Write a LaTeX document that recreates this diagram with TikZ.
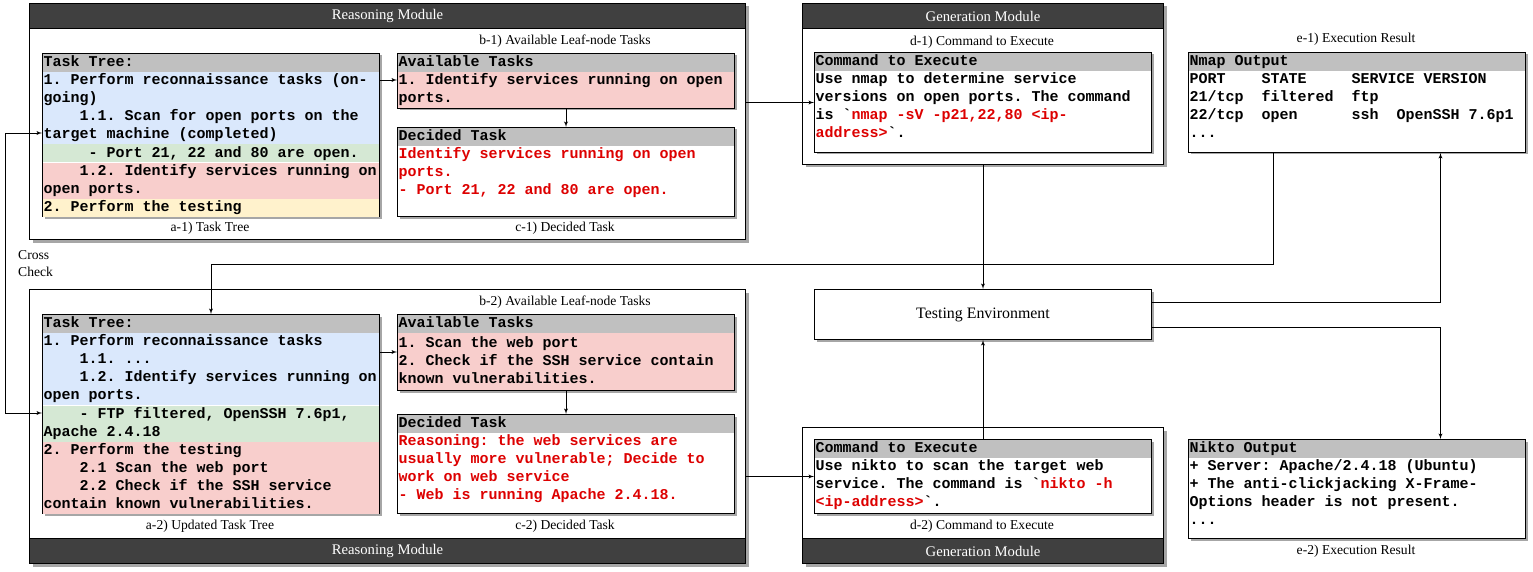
\documentclass[tikz,border=0pt]{standalone}
\usepackage{fontspec}
\setmainfont{Liberation Serif}
\setmonofont{Liberation Mono}
\usetikzlibrary{arrows, positioning, shadows}
\definecolor{headgray}{HTML}{C0C0C0}
\definecolor{modgray}{HTML}{404040}
\definecolor{treeblue}{HTML}{DAE8FC}
\definecolor{treegreen}{HTML}{D5E8D4}
\definecolor{treered}{HTML}{F8CECC}
\definecolor{treeyellow}{HTML}{FFF2CC}
\definecolor{redtxt}{HTML}{DD0000}
\newcommand{\code}{\fontsize{15}{18}\selectfont\ttfamily\bfseries}
\newcommand{\capfont}{\fontsize{13.6}{17}\selectfont}
\newcommand{\indt}[1]{\hspace*{\dimexpr 9pt*#1\relax}}
\newcommand{\redtext}[1]{\textcolor{redtxt}{#1}}
\frenchspacing

\begin{document}
\begin{tikzpicture}[x=1pt, y=-1pt]

\tikzset{module/.style = {draw, line width=1pt, fill=white, anchor=north west, inner sep=0pt, drop shadow={shadow xshift=3pt, shadow yshift=-3pt, fill=black!35, opacity=1}}}
\tikzset{band/.style = {draw, line width=1pt, fill=modgray, text=white, anchor=north west, inner sep=0pt, minimum height=25pt, font=\fontsize{14.7}{17}\selectfont}}
\tikzset{panel/.style = {draw, line width=1pt, fill=white, anchor=north west, inner sep=0pt, minimum width=337pt, drop shadow={shadow xshift=2pt, shadow yshift=-2pt, fill=black!35, opacity=1}}}
\tikzset{row/.style = {fill=#1, text width=334pt, inner xsep=1pt, inner ysep=0pt, align=left, font=\code, execute at begin node={\spaceskip=0.6em\relax\xspaceskip=0.6em\relax\strut}, execute at end node=\strut}}
\tikzset{toprow/.style = {anchor=north west, at={([shift={(0.5,0.5)}]#1.north west)}}}
\tikzset{caption/.style = {font=\capfont, inner sep=0pt}}
\tikzset{link/.style = {->, > = latex', line width=0.9pt}}
\useasboundingbox (0,0) rectangle (1533,572);
% modules
\node[module, minimum width=716pt, minimum height=236pt] (rm1) at (29,3) {};
\node[band, minimum width=716pt] (rm1t) at (29,3) {Reasoning Module};
\node[module, minimum width=361pt, minimum height=161pt] (gm1) at (802,3) {};
\node[band, minimum width=361pt] (gm1t) at (802,3) {Generation Module};
\node[module, minimum width=716pt, minimum height=274pt] (rm2) at (29,289) {};
\node[band, minimum width=716pt] (rm2t) at (29,538) {Reasoning Module};
\node[module, minimum width=361pt, minimum height=136pt] (gm2) at (802,427) {};
\node[band, minimum width=361pt] (gm2t) at (802,538) {Generation Module};
% task tree a-1
\node[panel, minimum height=163pt] (tt1) at (42,53) {};
\node[row=headgray, toprow=tt1] (tt1h) {Task Tree:};
\node[row=treeblue, below=0pt of tt1h] (tt1a) {1. Perform reconnaissance tasks (on-\\going)\\\indt{4}1.1. Scan for open ports on the\\target machine (completed)};
\node[row=treegreen, below=0pt of tt1a] (tt1b) {\indt{5}- Port 21, 22 and 80 are open.};
\node[row=treered, below=0pt of tt1b] (tt1c) {\indt{4}1.2. Identify services running on\\open ports.};
\node[row=treeyellow, below=0pt of tt1c] (tt1d) {2. Perform the testing};
% available tasks b-1
\node[panel, minimum height=55pt] (av1) at (397,53) {};
\node[row=headgray, toprow=av1] (av1h) {Available Tasks};
\node[row=treered, below=0pt of av1h] (av1a) {1. Identify services running on open\\ports.};
% decided task c-1
\node[panel, minimum height=89pt] (dc1) at (397,127) {};
\node[row=headgray, toprow=dc1] (dc1h) {Decided Task};
\node[row=white, text=redtxt, below=0pt of dc1h] (dc1a) {Identify services running on open\\ports.\\- Port 21, 22 and 80 are open.};
% command d-1
\node[panel, minimum height=100pt] (cmd1) at (814,52) {};
\node[row=headgray, toprow=cmd1] (cmd1h) {Command to Execute};
\node[row=white, below=0pt of cmd1h] (cmd1a) {Use nmap to determine service\\versions on open ports. The command\\is \textasciigrave\redtext{nmap -sV -p21,22,80 <ip-}\\\redtext{address>}\textasciigrave.};
% nmap e-1
\node[panel, minimum height=100pt] (nmap) at (1188,52) {};
\node[row=headgray, toprow=nmap] (nmaph) {Nmap Output};
\node[row=white, below=0pt of nmaph] (nmapa) {PORT\indt{4}STATE\indt{5}SERVICE VERSION\\21/tcp\indt{2}filtered\indt{2}ftp\\22/tcp\indt{2}open\indt{6}ssh\indt{2}OpenSSH 7.6p1\\...};
% testing environment
\node[panel, minimum height=50pt, font=\fontsize{15.9}{18}\selectfont] (te) at (814,289) {Testing Environment};
% updated task tree a-2
\node[panel, minimum height=199pt] (tt2) at (42,314) {};
\node[row=headgray, toprow=tt2] (tt2h) {Task Tree:};
\node[row=treeblue, below=0pt of tt2h] (tt2a) {1. Perform reconnaissance tasks\\\indt{4}1.1. ...\\\indt{4}1.2. Identify services running on\\open ports.};
\node[row=treegreen, below=0pt of tt2a] (tt2b) {\indt{4}- FTP filtered, OpenSSH 7.6p1,\\Apache 2.4.18};
\node[row=treered, below=0pt of tt2b] (tt2c) {2. Perform the testing\\\indt{4}2.1 Scan the web port\\\indt{4}2.2 Check if the SSH service\\contain known vulnerabilities.};
% available tasks b-2
\node[panel, minimum height=76pt] (av2) at (397,314) {};
\node[row=headgray, toprow=av2] (av2h) {Available Tasks};
\node[row=treered, minimum height=57pt, below=0pt of av2h] (av2a) {1. Scan the web port\\2. Check if the SSH service contain\\known vulnerabilities.};
% decided task c-2
\node[panel, minimum height=99pt] (dc2) at (397,414) {};
\node[row=headgray, toprow=dc2] (dc2h) {Decided Task};
\node[row=white, text=redtxt, below=0pt of dc2h] (dc2a) {Reasoning: the web services are\\usually more vulnerable; Decide to\\work on web service\\- Web is running Apache 2.4.18.};
% command d-2
\node[panel, minimum height=74pt] (cmd2) at (814,439) {};
\node[row=headgray, toprow=cmd2] (cmd2h) {Command to Execute};
\node[row=white, below=0pt of cmd2h] (cmd2a) {Use nikto to scan the target web\\service. The command is \textasciigrave\redtext{nikto -h}\\\redtext{<ip-address>}\textasciigrave.};
% nikto e-2
\node[panel, minimum height=99pt] (nikto) at (1188,439) {};
\node[row=headgray, toprow=nikto] (niktoh) {Nikto Output};
\node[row=white, below=0pt of niktoh] (niktoa) {+ Server: Apache/2.4.18 (Ubuntu)\\+ The anti-clickjacking X-Frame-\\Options header is not present.\\...};
% captions
\node[caption] (capb1) at (565,41) {b-1) Available Leaf-node Tasks};
\node[caption] (capa1) at (210,228) {a-1) Task Tree};
\node[caption] (capc1) at (565,228) {c-1) Decided Task};
\node[caption] (capd1) at (982,42) {d-1) Command to Execute};
\node[caption] (cape1) at (1356,39) {e-1) Execution Result};
\node[caption] (capb2) at (565,302) {b-2) Available Leaf-node Tasks};
\node[caption] (capa2) at (210,526) {a-2) Updated Task Tree};
\node[caption] (capc2) at (565,526) {c-2) Decided Task};
\node[caption] (capd2) at (982,526) {d-2) Command to Execute};
\node[caption] (cape2) at (1356,551) {e-2) Execution Result};
\node[caption, anchor=west, align=left] (cross) at (18,264) {Cross\\Check};
%edges
\draw[link] (tt1.east |- 0,80) -- (av1.west |- 0,80);
\draw[link] (av1.south) -- (dc1.north);
\draw[link] (rm1.east |- cmd1.west) -- (cmd1.west);
\draw[link] (gm1.south) -- (te.north);
\draw[link] ([xshift=-83.5pt]nmap.south) |- (tt2.north |- 0,264) -- (tt2.north);
\draw[link] (te.east |- 0,302) -| ([xshift=83.5pt]nmap.south);
\draw[link] (te.east |- 0,327) -| ([xshift=83.5pt]nikto.north);
\draw[link] (cmd2.north) -- (te.south);
\draw[link] (tt2.east |- 0,352) -- (av2.west |- 0,352);
\draw[link] (av2.south) -- (dc2.north);
\draw[link] (rm2.east |- cmd2.west) -- (cmd2.west);
\draw[link, <->] (tt1.west |- 0,133) -- ++(-37,0) |- (tt2.west |- 0,413);
\end{tikzpicture}
\end{document}
